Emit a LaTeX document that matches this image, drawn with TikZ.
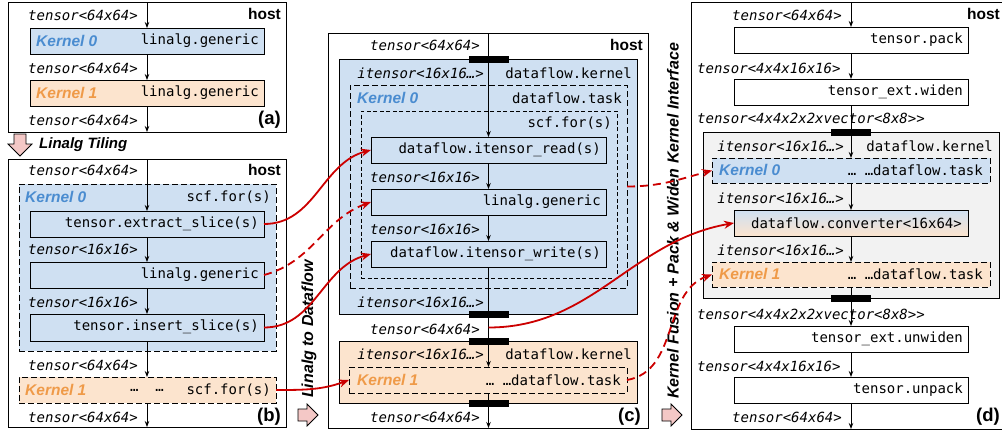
\documentclass[tikz,border=0pt]{standalone}
\usepackage{fontspec}
\setmainfont{Liberation Sans}
\setmonofont{DejaVu Sans Mono}
\usetikzlibrary{fit,arrows.meta,calc}
\definecolor{kblue}{RGB}{207,224,242}
\definecolor{kbluet}{RGB}{74,140,208}
\definecolor{korange}{RGB}{252,228,206}
\definecolor{korangt}{RGB}{239,154,72}
\definecolor{kgray}{RGB}{242,242,242}
\definecolor{kred}{RGB}{204,0,0}
\definecolor{kpink}{RGB}{244,200,198}
\newcommand\mkbox[4]{\node[fit={#3 #4}, inner sep=0pt, outer sep=0pt, #1] (#2) {};}
\tikzset{
 panel/.style={draw, line width=1pt, fill=white},
 opbox/.style={draw, line width=1pt},
 dbox/.style={draw, line width=1pt, dash pattern=on 6pt off 3pt},
 sbox/.style={draw, line width=1pt, dash pattern=on 4pt off 2.5pt},
 ttl/.style={font=\ttfamily\itshape\fontsize{14}{16}\selectfont, inner sep=0pt},
 opt/.style={font=\ttfamily\fontsize{14}{16}\selectfont, inner sep=0pt},
 hostt/.style={font=\bfseries\fontsize{15.5}{18}\selectfont, inner sep=0pt},
 tagt/.style={font=\bfseries\fontsize{18.5}{20}\selectfont, inner sep=0pt},
 kzero/.style={font=\bfseries\itshape\fontsize{15.5}{18}\selectfont, text=kbluet, inner sep=0pt},
 kone/.style={font=\bfseries\itshape\fontsize{15.5}{18}\selectfont, text=korangt, inner sep=0pt},
 blk/.style={line width=0.9pt, -{Stealth[length=6pt,width=4.5pt]}},
 redarr/.style={draw=kred, line width=1.8pt, -{Stealth[length=10pt,width=8pt]}},
 reddash/.style={redarr, dash pattern=on 8pt off 5pt},
 barn/.style={fill=black, inner sep=0pt, minimum width=40pt, minimum height=7pt},
 rott/.style={font=\bfseries\itshape\fontsize{16}{18}\selectfont, rotate=90, inner sep=0pt},
 pinkarr/.style={draw, fill=kpink, line width=0.8pt, line join=miter},
 steptxt/.style={font=\bfseries\itshape\fontsize{15}{18}\selectfont, inner sep=0pt}
}
\begin{document}
\begin{tikzpicture}[x=1pt,y=-1pt]
\useasboundingbox (0,0) rectangle (1002,434);

% ================= panel (a)
\mkbox{panel}{pa}{(8,2)}{(286,132)}
\mkbox{opbox,fill=kblue}{ka0}{(30,28)}{(264,54)}
\mkbox{opbox,fill=korange}{ka1}{(30,80)}{(264,106)}
\draw[blk] (ka0.north |- pa.north) -- (ka0.north);
\draw[blk] (ka0.south) -- (ka1.north);
\draw[blk] (ka1.south) -- (ka1.south |- pa.south);
\node[ttl, anchor=east] (la1) at (138,15) {tensor<64x64>};
\node[ttl, anchor=east] (la2) at (138,68) {tensor<64x64>};
\node[ttl, anchor=east] (la3) at (138,120) {tensor<64x64>};
\node[hostt, anchor=east] (ha) at (281,14) {host};
\node[tagt, anchor=east] (ta) at (281,120) {(a)};
\node[kzero, anchor=west] (ka0l) at (36,41) {Kernel 0};
\node[opt, anchor=east] (ka0t) at (259,41) {linalg.generic};
\node[kone, anchor=west] (ka1l) at (36,93) {Kernel 1};
\node[opt, anchor=east] (ka1t) at (259,93) {linalg.generic};

% step arrow: Linalg Tiling
\draw[pinkarr] (14,134) -- (26,134) -- (26,144) -- (32,144) -- (20,156) -- (8,144) -- (14,144) -- cycle;
\node[steptxt, anchor=west] (tiling) at (39,145) {Linalg Tiling};

% ================= panel (b)
\mkbox{panel}{pb}{(8,159)}{(286,427)}
\mkbox{dbox,fill=kblue}{kb0}{(19,184)}{(276,351)}
\mkbox{opbox}{bx1}{(30,211)}{(264,237)}
\mkbox{opbox}{bx2}{(30,262)}{(264,288)}
\mkbox{opbox}{bx3}{(30,314)}{(264,341)}
\mkbox{dbox,fill=korange}{kb1}{(19,377)}{(276,403)}
\draw[blk] (bx1.north |- pb.north) -- (bx1.north);
\draw[blk] (bx1.south) -- (bx2.north);
\draw[blk] (bx2.south) -- (bx3.north);
\draw[blk] (bx3.south) -- (bx3.south |- kb1.north);
\draw[blk] (bx3.south |- kb1.south) -- (bx3.south |- pb.south);
\node[ttl, anchor=east] (lb1) at (138,170) {tensor<64x64>};
\node[hostt, anchor=east] (hb) at (281,170) {host};
\node[kzero, anchor=west] (kb0l) at (25,197) {Kernel 0};
\node[opt, anchor=east] (kb0t) at (271,197) {scf.for(s)};
\node[opt, anchor=east] (bx1t) at (259,224) {tensor.extract\_slice(s)};
\node[ttl, anchor=east] (lb2) at (138,249) {tensor<16x16>};
\node[opt, anchor=east] (bx2t) at (259,275) {linalg.generic};
\node[ttl, anchor=east] (lb3) at (138,302) {tensor<16x16>};
\node[opt, anchor=east] (bx3t) at (259,327) {tensor.insert\_slice(s)};
\node[ttl, anchor=east] (lb4) at (138,365) {tensor<64x64>};
\node[kone, anchor=west] (kb1l) at (25,390) {Kernel 1};
\node[opt] (kb1d) at (147,390) {…\ \ …};
\node[opt, anchor=east] (kb1t) at (271,390) {scf.for(s)};
\node[ttl, anchor=east] (lb5) at (138,417) {tensor<64x64>};
\node[tagt, anchor=east] (tb) at (281,417) {(b)};

% step arrow: Linalg to Dataflow
\draw[pinkarr] (298,409) -- (307,409) -- (307,404) -- (318,415) -- (307,426) -- (307,421) -- (298,421) -- cycle;
\node[rott] (todf) at (309,329) {Linalg to Dataflow};

% ================= panel (c)
\mkbox{panel}{pc}{(328,33)}{(648,428)}
\mkbox{opbox,fill=kblue}{ck0}{(339,59)}{(637,314)}
\mkbox{dbox}{ct0}{(350,85)}{(627,288)}
\mkbox{sbox}{cs}{(361,111)}{(617,278)}
\mkbox{opbox}{cr}{(371,137)}{(606,163)}
\mkbox{opbox}{cg}{(371,189)}{(606,215)}
\mkbox{opbox}{cw}{(371,241)}{(606,267)}
\mkbox{opbox,fill=korange}{ck1}{(339,341)}{(637,403)}
\mkbox{dbox}{ct1}{(349,367)}{(627,393)}
\draw[blk] (cr.north |- pc.north) -- (cr.north);
\draw[blk] (cr.south) -- (cg.north);
\draw[blk] (cg.south) -- (cw.north);
\draw[blk] (cw.south) -- (cw.south |- ct1.north);
\draw[blk] (cw.south |- ct1.south) -- (cw.south |- pc.south);
\node[barn] (cb1) at (cr.north |- ck0.north) {};
\node[barn] (cb2) at (cr.north |- ck0.south) {};
\node[barn] (cb3) at (cr.north |- ck1.north) {};
\node[barn] (cb4) at (cr.north |- ck1.south) {};
\node[ttl, anchor=east] (lc1) at (480,45) {tensor<64x64>};
\node[hostt, anchor=east] (hc) at (643,45) {host};
\node[ttl, anchor=east] (lc2) at (484,73) {itensor<16x16…>};
\node[opt, anchor=east] (ck0t) at (632,73) {dataflow.kernel};
\node[kzero, anchor=west] (ct0l) at (357,98) {Kernel 0};
\node[opt, anchor=east] (ct0t) at (622,98) {dataflow.task};
\node[opt, anchor=east] (cst) at (612,123) {scf.for(s)};
\node[opt, anchor=east] (crt) at (601,150) {dataflow.itensor\_read(s)};
\node[ttl, anchor=east] (lc3) at (480,177) {tensor<16x16>};
\node[opt, anchor=east] (cgt) at (601,202) {linalg.generic};
\node[ttl, anchor=east] (lc4) at (480,229) {tensor<16x16>};
\node[opt, anchor=east] (cwt) at (601,254) {dataflow.itensor\_write(s)};
\node[ttl, anchor=east] (lc5) at (484,302) {itensor<16x16…>};
\node[ttl, anchor=east] (lc6) at (480,329) {tensor<64x64>};
\node[ttl, anchor=east] (lc7) at (484,354) {itensor<16x16…>};
\node[opt, anchor=east] (ck1t) at (632,354) {dataflow.kernel};
\node[kone, anchor=west] (ct1l) at (357,380) {Kernel 1};
\node[opt, anchor=east] (ct1t) at (621,380) {… …dataflow.task};
\node[ttl, anchor=east] (lc8) at (480,417) {tensor<64x64>};
\node[tagt, anchor=east] (tc) at (641,417) {(c)};
\coordinate (cmid) at ($(ck0.south -| cr.north)!0.5!(ck1.north -| cr.north)$);

% step arrow: Kernel Fusion
\draw[pinkarr] (662,409) -- (671,409) -- (671,404) -- (682,415) -- (671,426) -- (671,421) -- (662,421) -- cycle;
\node[rott] (fuse) at (673,221) {Kernel Fusion + Pack \& Widen Kernel Interface};

% ================= panel (d)
\mkbox{panel}{pd}{(691,2)}{(1012,429)}
\mkbox{opbox}{dpack}{(734,27)}{(968,53)}
\mkbox{opbox}{dwid}{(734,79)}{(968,105)}
\mkbox{opbox,fill=kgray}{dk}{(703,132)}{(999,298)}
\mkbox{dbox,fill=kblue}{dt0}{(712,158)}{(990,183)}
\mkbox{opbox,top color=kblue,bottom color=korange}{dconv}{(734,210)}{(968,236)}
\mkbox{dbox,fill=korange}{dt1}{(712,262)}{(990,287)}
\mkbox{opbox}{dunw}{(734,326)}{(968,352)}
\mkbox{opbox}{dunp}{(734,377)}{(968,403)}
\draw[blk] (dpack.north |- pd.north) -- (dpack.north);
\draw[blk] (dpack.south) -- (dwid.north);
\draw[blk] (dwid.south) -- (dwid.south |- dt0.north);
\draw[blk] (dwid.south |- dt0.south) -- (dconv.north);
\draw[blk] (dconv.south) -- (dconv.south |- dt1.north);
\draw[blk] (dconv.south |- dt1.south) -- (dunw.north);
\draw[blk] (dunw.south) -- (dunp.north);
\draw[blk] (dunp.south) -- (dunp.south |- pd.south);
\node[barn] (db1) at (dpack.north |- dk.north) {};
\node[barn] (db2) at (dpack.north |- dk.south) {};
\node[ttl, anchor=east] (ld1) at (842,15) {tensor<64x64>};
\node[hostt, anchor=east] (hd) at (1000,14) {host};
\node[opt, anchor=east] (dpackt) at (963,40) {tensor.pack};
\node[ttl, anchor=west] (ld2) at (697,68) {tensor<4x4x16x16>};
\node[opt, anchor=east] (dwidt) at (963,92) {tensor\_ext.widen};
\node[ttl, anchor=west] (ld3) at (697,118) {tensor<4x4x2x2xvector<8x8>>};
\node[ttl, anchor=east] (ld4) at (844,146) {itensor<16x16…>};
\node[opt, anchor=east] (dkt) at (993,146) {dataflow.kernel};
\node[kzero, anchor=west] (dt0l) at (719,170) {Kernel 0};
\node[opt, anchor=east] (dt0t) at (983,170) {… …dataflow.task};
\node[ttl, anchor=east] (ld5) at (844,198) {itensor<16x16…>};
\node[opt, anchor=east] (dconvt) at (962,223) {dataflow.converter<16x64>};
\node[ttl, anchor=east] (ld6) at (844,250) {itensor<16x16…>};
\node[kone, anchor=west] (dt1l) at (719,274) {Kernel 1};
\node[opt, anchor=east] (dt1t) at (983,274) {… …dataflow.task};
\node[ttl, anchor=west] (ld7) at (697,314) {tensor<4x4x2x2xvector<8x8>>};
\node[opt, anchor=east] (dunwt) at (963,339) {tensor\_ext.unwiden};
\node[ttl, anchor=west] (ld8) at (697,366) {tensor<4x4x16x16>};
\node[opt, anchor=east] (dunpt) at (963,390) {tensor.unpack};
\node[ttl, anchor=east] (ld9) at (842,417) {tensor<64x64>};
\node[tagt, anchor=west] (td) at (976,417) {(d)};

% ================= red transformation arrows
\draw[redarr] (bx1.east) to[out=0,in=195] (cr.west);
\draw[reddash] (bx2.east) to[out=15,in=200] (cg.west);
\draw[redarr] (bx3.east) to[out=0,in=195] (cw.west);
\draw[redarr] (kb1.east) to[out=0,in=200] (ct1.west);
\draw[reddash] (ct0.east) to[out=0,in=195] (dt0.west);
\draw[redarr] (cmid) to[out=0,in=190] (dconv.west);
\draw[reddash] (ct1.east) to[out=10,in=200] (dt1.west);
\end{tikzpicture}
\end{document}
